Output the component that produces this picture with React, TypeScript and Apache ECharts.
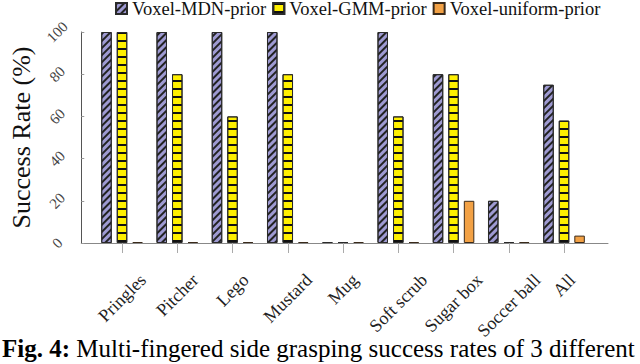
import React, { useEffect, useRef } from "react";
import * as echarts from "echarts";

const categories = ["Pringles", "Pitcher", "Lego", "Mustard", "Mug", "Soft scrub", "Sugar box", "Soccer ball", "All"];
const mdnValues = [100, 100, 100, 100, 0, 100, 80, 20, 75];
const gmmValues = [100, 80, 60, 80, 0, 60, 80, 0, 58];
const uniformValues = [0, 0, 0, 0, 0, 0, 20, 0, 3.5];
const seriesNames = ["Voxel-MDN-prior", "Voxel-GMM-prior", "Voxel-uniform-prior"];
const yTicks = [0, 20, 40, 60, 80, 100];
const yTitle = "Success Rate (%)";
const captionBold = "Fig. 4:";
const captionText = " Multi-fingered side grasping success rates of 3 different";

const SERIF = "'Liberation Serif', 'Times New Roman', Times, 'DejaVu Serif', serif";
const X_FONT = 18;

function measure(text: string, size: number): number {
  const c = document.createElement("canvas");
  const ctx = c.getContext("2d");
  if (!ctx) return text.length * size * 0.5;
  ctx.font = `${size}px ${SERIF}`;
  return ctx.measureText(text).width;
}

export default function App() {
  const ref = useRef<HTMLDivElement>(null);
  useEffect(() => {
    if (!ref.current) return;
    const chart = echarts.init(ref.current, undefined, { renderer: "svg" });

    const rich: Record<string, any> = {
      t: { fontSize: X_FONT, fontFamily: SERIF, color: "#222", lineHeight: 20 },
    };
    categories.forEach((c, i) => {
      const w = measure(c, X_FONT);
      rich[`s${i}`] = { fontSize: 1, fontFamily: SERIF, lineHeight: w * 0.5 };
      rich[`r${i}`] = { fontSize: 1, fontFamily: SERIF, width: w * 0.5 };
    });

    const border = "#2a2a2a";
    const option: any = {
      animation: false,
      backgroundColor: "#fff",
      textStyle: { fontFamily: SERIF },
      legend: {
        data: seriesNames,
        top: -1,
        left: 115,
        padding: 0,
        itemWidth: 11,
        itemHeight: 11,
        itemGap: 6,
        icon: "rect",
        textStyle: { fontSize: 18.5, fontFamily: SERIF, color: "#111" },
      },
      grid: [
        { left: 78, right: 32, top: 32, bottom: 121 },
        { left: 94.4, width: 497.25, top: 32, bottom: 121 },
      ],
      xAxis: [
        {
          gridIndex: 0,
          type: "value",
          min: 0,
          max: 1,
          axisLine: { show: true, lineStyle: { color: "#888", width: 1 } },
          axisTick: { show: false },
          axisLabel: { show: false },
          splitLine: { show: false },
        },
        {
          gridIndex: 1,
          type: "category",
          data: categories,
          axisLine: { show: false },
          axisTick: { show: true, alignWithLabel: true, length: 10, lineStyle: { color: "#aaa" } },
          axisLabel: {
            interval: 0,
            rotate: 45,
            align: "center",
            verticalAlign: "middle",
            margin: 34,
            fontFamily: SERIF,
            formatter: (v: string, i: number) => `{s${i}| }\n{t|${v}}{r${i}| }`,
            rich,
          },
        },
      ],
      yAxis: [
        {
          gridIndex: 0,
          type: "value",
          min: yTicks[0],
          max: yTicks[yTicks.length - 1],
          interval: 20,
          axisLine: { show: true, lineStyle: { color: "#555", width: 1 } },
          axisTick: { show: true, inside: true, length: 3, lineStyle: { color: "#999" } },
          splitLine: { show: false },
          axisLabel: {
            rotate: 45,
            align: "center",
            verticalAlign: "middle",
            margin: 24,
            fontSize: 15,
            fontFamily: SERIF,
            color: "#444",
          },
          name: yTitle,
          nameLocation: "middle",
          nameGap: 47,
          nameTextStyle: { fontSize: 26, fontFamily: SERIF, color: "#111" },
        },
        { gridIndex: 1, type: "value", min: 0, max: 100, show: false },
      ],
      series: [
        {
          name: seriesNames[0],
          type: "bar",
          xAxisIndex: 1,
          yAxisIndex: 1,
          data: mdnValues,
          barWidth: 10.5,
          barGap: "48%",
          barMinHeight: 1,
          itemStyle: {
            color: "#9e9ad2",
            borderColor: border,
            borderWidth: 1,
            decal: {
              symbol: "rect",
              symbolSize: 1,
              color: "#222",
              dashArrayX: [1, 0],
              dashArrayY: [1.3, 2.7],
              rotation: -Math.PI / 4,
            },
          },
        },
        {
          name: seriesNames[1],
          type: "bar",
          xAxisIndex: 1,
          yAxisIndex: 1,
          data: gmmValues,
          barWidth: 10.5,
          barGap: "48%",
          barMinHeight: 1,
          itemStyle: {
            color: "#fff000",
            borderColor: border,
            borderWidth: 1,
            decal: {
              symbol: "rect",
              symbolSize: 1,
              color: "#111",
              dashArrayX: [1, 0],
              dashArrayY: [2, 5.4],
            },
          },
        },
        {
          name: seriesNames[2],
          type: "bar",
          xAxisIndex: 1,
          yAxisIndex: 1,
          data: uniformValues,
          barWidth: 10.5,
          barGap: "48%",
          barMinHeight: 1,
          itemStyle: { color: "#f2a145", borderColor: "#3a2a1a", borderWidth: 1 },
        },
      ],
      graphic: [
        {
          type: "text",
          left: 2,
          top: 336,
          style: {
            text: `{b|${captionBold}}{n|${captionText}}`,
            rich: {
              b: { fontSize: 25, fontWeight: "bold", fontFamily: SERIF, fill: "#000", color: "#000" },
              n: { fontSize: 25, fontFamily: SERIF, fill: "#000", color: "#000" },
            },
          },
        },
      ],
    };
    chart.setOption(option);
    return () => chart.dispose();
  }, []);
  return <div ref={ref} style={{ width: 640, height: 364, position: "absolute", left: 0, top: 0 }} />;
}
